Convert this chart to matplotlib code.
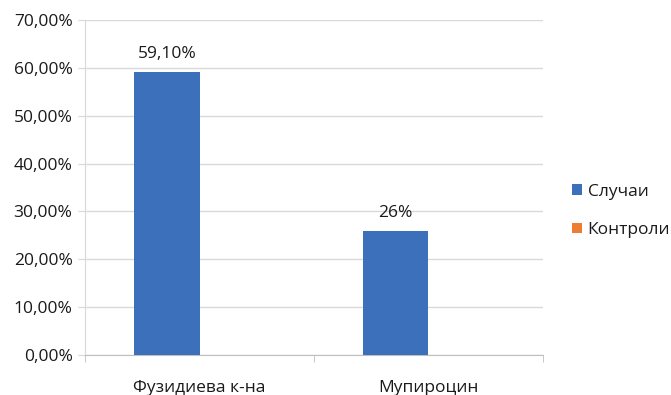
import numpy as np
import matplotlib.pyplot as plt
from matplotlib.ticker import FuncFormatter

plt.rcParams['font.family'] = ['Open Sans', 'DejaVu Sans']

categories = ['Фузидиева к-на', 'Мупироцин']
series = ['Случаи', 'Контроли']
cases = [59.1, 26.0]
controls = [0.0, 0.0]
case_labels = ['59,10%', '26%']
colors = ['#3D70BA', '#ED7D31']
txt_color = '#1A1A1A'

fig = plt.figure(figsize=(6.71, 3.95), dpi=100)
ax = fig.add_axes([0.1267, 0.1013, 0.6825, 0.8481])

x = np.arange(len(categories))
w = 0.286
b1 = ax.bar(x - w / 2, cases, w, color=colors[0], label=series[0], zorder=3)
b2 = ax.bar(x + w / 2, controls, w, color=colors[1], label=series[1], zorder=3)

for rect, txt in zip(b1, case_labels):
    ax.annotate(txt, (rect.get_x() + rect.get_width() / 2, rect.get_height()),
                xytext=(0, 7), textcoords='offset points',
                ha='center', va='bottom', fontsize=12.5, color=txt_color)

ax.set_xlim(-0.5, 1.5)
ax.set_ylim(0, 70)
ax.set_yticks(np.arange(0, 71, 10))
ax.yaxis.set_major_formatter(FuncFormatter(lambda v, p: f'{v:.2f}%'.replace('.', ',')))
ax.yaxis.grid(True, color='#D9D9D9', linewidth=1, zorder=0)
ax.tick_params(axis='y', length=5, color='#D9D9D9', labelsize=12.5, labelcolor=txt_color, pad=4)

ax.set_xticks(x)
ax.set_xticklabels(categories, fontsize=12.5, color=txt_color)
ax.set_xticks([-0.5, 0.5, 1.5], minor=True)
ax.tick_params(axis='x', which='major', length=0, pad=18)
ax.tick_params(axis='x', which='minor', length=5, color='#BFBFBF')

for s in ['top', 'right']:
    ax.spines[s].set_visible(False)
ax.spines['left'].set_color('#D9D9D9')
ax.spines['bottom'].set_color('#BFBFBF')

leg = ax.legend(loc='center left', bbox_to_anchor=(572 / 671, 1 - 211 / 395),
                bbox_transform=fig.transFigure, frameon=False,
                handlelength=0.55, handleheight=0.55, handletextpad=0.35,
                labelspacing=1.3, fontsize=12.5, borderpad=0, borderaxespad=0)
for t in leg.get_texts():
    t.set_color(txt_color)

fig.savefig('out.png', dpi=100)
